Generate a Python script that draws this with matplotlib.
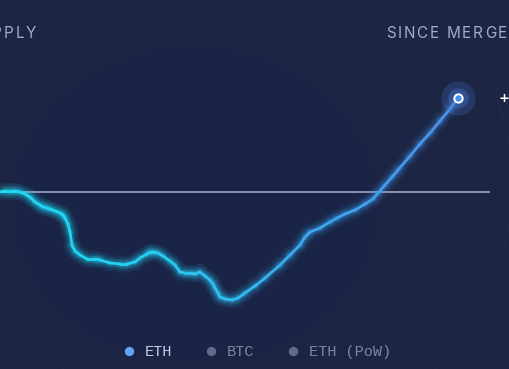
import matplotlib
matplotlib.use("Agg")
import matplotlib.pyplot as plt
from matplotlib.collections import LineCollection
from matplotlib.colors import LinearSegmentedColormap
from matplotlib.patches import Ellipse, Circle
import numpy as np

# ETH supply change since the merge (days, thousand ETH)
days = [0, 10, 20, 30, 40, 54, 62, 70, 80, 86, 94, 100, 110, 120, 126,
        130, 136, 140, 144, 150, 160, 174, 190, 200, 220, 240, 254, 270, 280, 294,
        300, 306, 316, 326, 340, 350, 360, 370, 380, 390, 400, 410, 420, 426, 430,
        436, 440, 450, 464, 476, 490, 510, 530, 560, 580, 600, 610, 620, 640, 660,
        674, 690, 710, 730, 746, 756, 770, 784, 796, 820, 840, 860, 880, 900, 916]
supply = [0, 0.5, 0.5, 0.5, 0, -1.5, -3, -5, -6.5, -7.5, -8, -8.5, -9.5, -10.5, -11.5,
          -13, -16, -20, -26.5, -29.5, -31.5, -33.5, -33.5, -34, -35.5, -36, -36, -35, -33, -31,
          -30, -30, -30.5, -32, -34.5, -36.5, -40, -40.5, -40.5, -41, -40, -42, -44, -46, -48,
          -50.5, -52.5, -53.5, -54, -53, -50.5, -47, -43, -36.5, -31.5, -26.5, -22.5, -20, -18, -15,
          -13, -11, -9, -6, -3.5, -0.5, 3.5, 7.5, 11, 18, 24, 29.5, 35.5, 41.5, 47]
merge_level = 0
legend_labels = ["ETH", "BTC", "ETH (PoW)"]
legend_colors = ["#5fa4f6", "#636c86", "#636c86"]
legend_text_colors = ["#c5cde3", "#7e869f", "#7e869f"]

BG = "#1c2543"
W, H = 510, 369
fig = plt.figure(figsize=(W / 100, H / 100), dpi=100, facecolor=BG)

# decorative background glow
bg = fig.add_axes([0, 0, 1, 1])
bg.set_xlim(0, W)
bg.set_ylim(H, 0)
bg.axis("off")
bg.set_facecolor(BG)
bg.add_patch(Circle((250, 185), 262, facecolor="none", edgecolor="#263260", lw=1.0, alpha=0.35))
for k in range(4):
    bg.add_patch(Ellipse((195, 205), 370 - k * 10, 320 - k * 10, facecolor="#19244c",
                         edgecolor="none", alpha=0.15))

ax = fig.add_axes([0, 0, 1, 1])
ax.set_xlim(0, 1020)
ax.set_ylim(-88.5, 96)
ax.axis("off")
ax.patch.set_alpha(0)

ax.plot([0, 980], [merge_level, merge_level], color="#8d93ad", lw=1.4, solid_capstyle="butt")

x = np.array(days, dtype=float)
y = np.array(supply, dtype=float)
pts = np.column_stack([x, y]).reshape(-1, 1, 2)
segs = np.concatenate([pts[:-1], pts[1:]], axis=1)
cmap = LinearSegmentedColormap.from_list("eth", ["#20daf2", "#27cdf2", "#3aaaf0", "#4a90ec"])
t = (x[:-1] + x[1:]) / 2 / x.max()
cols = cmap(t)

for lw, al in [(12, 0.05), (8, 0.08), (5, 0.16)]:
    glow = cols.copy()
    glow[:, 3] = al
    ax.add_collection(LineCollection(segs, colors=glow, linewidths=lw, capstyle="round",
                                     joinstyle="round"))
ax.add_collection(LineCollection(segs, colors=cols, linewidths=2.0, capstyle="round",
                                 joinstyle="round"))

# end marker with halo
ax.scatter([x[-1]], [y[-1]], s=600, color="#4a7fe0", alpha=0.22, lw=0, zorder=5)
ax.scatter([x[-1]], [y[-1]], s=220, color="#4a7fe0", alpha=0.3, lw=0, zorder=5)
ax.scatter([x[-1]], [y[-1]], s=36, color="#4a8ef0", edgecolors="white", lw=1.4, zorder=6)
ax.annotate("+", (x[-1], y[-1]), xytext=(29, 0), textcoords="offset points",
            color="white", fontsize=9.5, fontweight="bold", va="center", ha="left",
            family="DejaVu Sans")

renderer = fig.canvas.get_renderer()


def spaced_text(xpx, ypx, s, gap, ha="left", **kw):
    # draw text char by char with extra letter spacing (pixel coords, y from top)
    probe = fig.text(0, 0, "", **kw)
    fp = probe.get_fontproperties()
    probe.remove()
    widths = [renderer.get_text_width_height_descent(c, fp, ismath=False)[0] for c in s]
    total = sum(widths) + gap * (len(s) - 1)
    cx = xpx - total if ha == "right" else xpx
    for c, w in zip(s, widths):
        fig.text(cx / W, 1 - ypx / H, c, va="baseline", ha="left", **kw)
        cx += w + gap


title_kw = dict(color="#a3acc7", fontsize=11, family=["Inter", "DejaVu Sans"])
spaced_text(36, 38.5, "SUPPLY", 1.8, ha="right", **title_kw)
spaced_text(507, 38.5, "SINCE MERGE", 1.8, ha="right", **title_kw)

# legend
dot_x = [129, 211, 293]
for lab, dc, tc, dx in zip(legend_labels, legend_colors, legend_text_colors, dot_x):
    bg.scatter([dx], [351], s=45, color=dc, lw=0, zorder=3)
    fig.text((dx + 16) / W, 1 - 356 / H, lab, color=tc, fontsize=11,
             family=["Liberation Mono", "DejaVu Sans Mono"], va="baseline", ha="left")

fig.savefig("out.png", dpi=100, facecolor=BG)
